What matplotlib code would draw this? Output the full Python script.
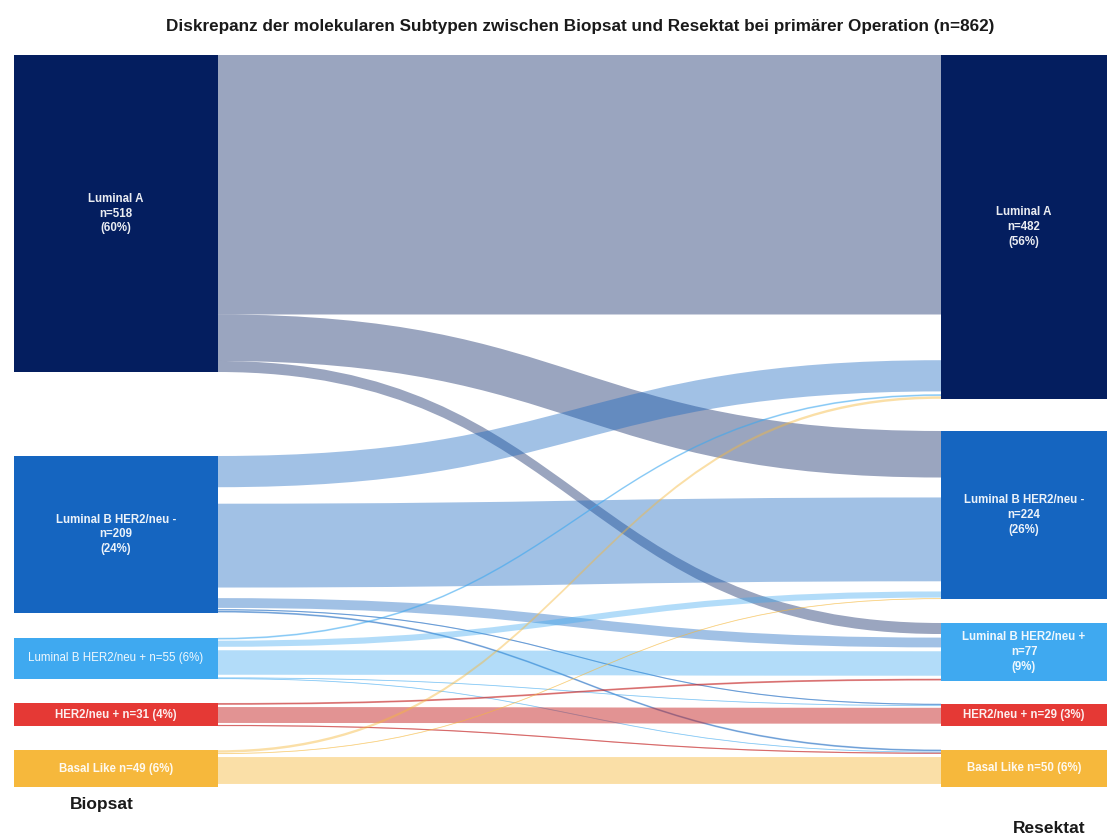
import matplotlib
matplotlib.use("Agg")
import matplotlib.pyplot as plt
from matplotlib.path import Path
from matplotlib.patches import PathPatch, Rectangle
from matplotlib.colors import to_rgba

# ---- data -------------------------------------------------------------
subtypes = ["Luminal A", "Luminal B HER2/neu -", "Luminal B HER2/neu +",
            "HER2/neu +", "Basal Like"]
biopsy_n = [518, 209, 55, 31, 49]
resection_n = [482, 224, 77, 29, 50]
total_n = 862

# patients per (biopsy subtype -> resection subtype)
transitions = [
    [424, 76, 18, 0, 0],    # Luminal A
    [51, 137, 16, 2, 3],    # Luminal B HER2/neu -
    [3, 10, 40, 1, 1],      # Luminal B HER2/neu +
    [0, 0, 3, 26, 2],       # HER2/neu +
    [4, 1, 0, 0, 44],       # Basal Like
]

# label layout: multi-line (True) or single line (False)
left_multiline = [True, True, False, False, False]
right_multiline = [True, True, True, False, False]
left_weight = ["bold", "bold", "normal", "bold", "bold"]
right_weight = ["bold", "bold", "bold", "bold", "bold"]

title = "Diskrepanz der molekularen Subtypen zwischen Biopsat und Resektat bei primärer Operation (n=862)"
left_title = "Biopsat"
right_title = "Resektat"

# ---- style ------------------------------------------------------------
node_colors = ["#041e5f", "#1565c0", "#3fa9f0", "#e53935", "#f6b83c"]
flow_colors = ["#041e5f", "#1565c0", "#3fa9f0", "#c62828", "#f6b83c"]
flow_alpha = [0.40, 0.40, 0.40, 0.50, 0.45]

W, H = 1107, 838
FLOW_PX = 0.612          # band thickness per patient
NODE_PX = 0.75           # node height per patient for the smaller subtypes
COL_TOP, COL_BOTTOM = 55, 787
left_gaps = [84, 25, 24, 24]
right_gaps = [32, 24, 23, 24]
LEFT_X0, LEFT_X1 = 14, 218
RIGHT_X0, RIGHT_X1 = 941, 1107

plt.rcParams["font.family"] = ["Liberation Sans", "DejaVu Sans"]

fig = plt.figure(figsize=(W / 100, H / 100), dpi=100)
ax = fig.add_axes([0, 0, 1, 1])
ax.set_xlim(0, W)
ax.set_ylim(H, 0)
ax.axis("off")


def stack_nodes(values, gaps):
    """Stack nodes bottom-up; the first node fills the space at the top."""
    tops = [0.0] * len(values)
    heights = [0.0] * len(values)
    bottom = COL_BOTTOM
    for i in range(len(values) - 1, 0, -1):
        heights[i] = values[i] * NODE_PX
        tops[i] = bottom - heights[i]
        bottom = tops[i] - gaps[i - 1]
    tops[0] = COL_TOP
    heights[0] = bottom - COL_TOP
    return tops, heights


ltops, lheights = stack_nodes(biopsy_n, left_gaps)
rtops, rheights = stack_nodes(resection_n, right_gaps)
lscale = [h / v for h, v in zip(lheights, biopsy_n)]
rscale = [h / v for h, v in zip(rheights, resection_n)]


def band_start(node_top, before, value, scale, first):
    """Top of a band inside its slot: first band hugs the node top,
    later bands sit centred in their slot."""
    slot_top = node_top + before * scale
    if first:
        return slot_top
    return slot_top + (value * scale - value * FLOW_PX) / 2


# ---- flows ------------------------------------------------------------
xm = (LEFT_X1 + RIGHT_X0) / 2
n = len(subtypes)
for i in range(n):
    for j in range(n):
        v = transitions[i][j]
        if v == 0:
            continue
        before_src = sum(transitions[i][:j])
        before_tgt = sum(transitions[k][j] for k in range(i))
        w = v * FLOW_PX
        y0 = band_start(ltops[i], before_src, v, lscale[i], before_src == 0)
        y1 = band_start(rtops[j], before_tgt, v, rscale[j], before_tgt == 0)
        verts = [(LEFT_X1, y0), (xm, y0), (xm, y1), (RIGHT_X0, y1),
                 (RIGHT_X0, y1 + w), (xm, y1 + w), (xm, y0 + w), (LEFT_X1, y0 + w),
                 (LEFT_X1, y0)]
        codes = [Path.MOVETO, Path.CURVE4, Path.CURVE4, Path.CURVE4,
                 Path.LINETO, Path.CURVE4, Path.CURVE4, Path.CURVE4,
                 Path.CLOSEPOLY]
        col = to_rgba(flow_colors[i], flow_alpha[i])
        ax.add_patch(PathPatch(Path(verts, codes), facecolor=col,
                               edgecolor="none", zorder=1))
        if w < 2.0:
            yc0, yc1 = y0 + w / 2, y1 + w / 2
            cpath = Path([(LEFT_X1, yc0), (xm, yc0), (xm, yc1), (RIGHT_X0, yc1)],
                         [Path.MOVETO, Path.CURVE4, Path.CURVE4, Path.CURVE4])
            ax.add_patch(PathPatch(cpath, facecolor="none",
                                   edgecolor=to_rgba(flow_colors[i], 0.42),
                                   linewidth=0.65, zorder=1))

# ---- nodes ------------------------------------------------------------
def node_label(name, count, multiline):
    pct = round(100 * count / total_n)
    if multiline:
        return f"{name}\nn={count}\n({pct}%)"
    return f"{name} n={count} ({pct}%)"


for i in range(n):
    ax.add_patch(Rectangle((LEFT_X0, ltops[i]), LEFT_X1 - LEFT_X0, lheights[i],
                           facecolor=node_colors[i], edgecolor="none", zorder=2))
    ax.text((LEFT_X0 + LEFT_X1) / 2, ltops[i] + lheights[i] / 2,
            node_label(subtypes[i], biopsy_n[i], left_multiline[i]),
            ha="center", va="center", color="white", fontsize=8.3,
            fontweight=left_weight[i], linespacing=1.3, zorder=3, alpha=0.92)
    ax.add_patch(Rectangle((RIGHT_X0, rtops[i]), RIGHT_X1 - RIGHT_X0, rheights[i],
                           facecolor=node_colors[i], edgecolor="none", zorder=2))
    ax.text((RIGHT_X0 + RIGHT_X1) / 2, rtops[i] + rheights[i] / 2,
            node_label(subtypes[i], resection_n[i], right_multiline[i]),
            ha="center", va="center", color="white", fontsize=8.3,
            fontweight=right_weight[i], linespacing=1.3, zorder=3, alpha=0.92)

# ---- titles -----------------------------------------------------------
ax.text(580, 26, title, ha="center", va="center", fontsize=12.3,
        fontweight="bold", color="#1a1a1a")
ax.text(102, 804, left_title, ha="center", va="center", fontsize=12.5,
        fontweight="bold", color="#1a1a1a")
ax.text(1049, 828, right_title, ha="center", va="center", fontsize=12.5,
        fontweight="bold", color="#1a1a1a")

fig.savefig("out.png", dpi=100, facecolor="white")
